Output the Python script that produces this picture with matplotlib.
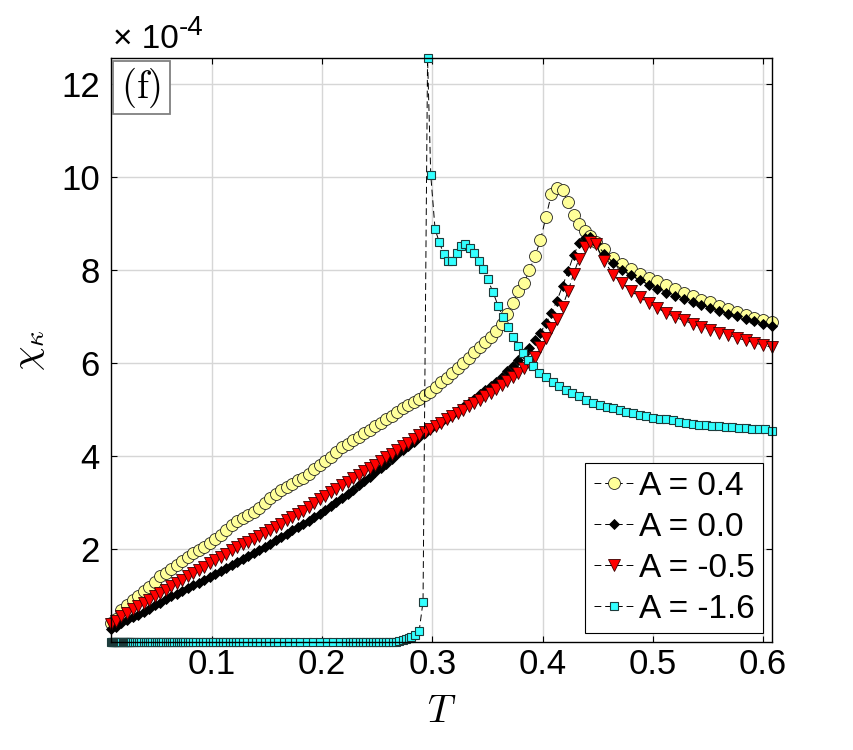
import matplotlib.pyplot as plt
from matplotlib.patches import Rectangle

plt.rcParams['font.family'] = ['Liberation Sans', 'DejaVu Sans']
plt.rcParams['mathtext.fontset'] = 'cm'

# --- DATA (chi_kappa in units of 1e-4) ---
T_main = [0.0085, 0.013, 0.018, 0.023, 0.028, 0.033, 0.038, 0.043, 0.048, 0.053,
          0.058, 0.063, 0.068, 0.073, 0.078, 0.083, 0.088, 0.093, 0.098, 0.103,
          0.108, 0.113, 0.118, 0.123, 0.128, 0.133, 0.138, 0.143, 0.148, 0.153,
          0.158, 0.163, 0.168, 0.173, 0.178, 0.183, 0.188, 0.193, 0.198, 0.203,
          0.208, 0.213, 0.218, 0.223, 0.228, 0.233, 0.238, 0.243, 0.248, 0.253,
          0.258, 0.263, 0.268, 0.273, 0.278, 0.283, 0.288, 0.293, 0.298, 0.303,
          0.308, 0.313, 0.318, 0.323, 0.328, 0.333, 0.338, 0.343, 0.348, 0.353,
          0.358, 0.363, 0.368, 0.373, 0.378, 0.383, 0.388, 0.393, 0.398, 0.403,
          0.408, 0.413, 0.418, 0.423, 0.428, 0.433, 0.438, 0.443, 0.448, 0.456,
          0.464, 0.472, 0.480, 0.488, 0.496, 0.504, 0.512, 0.520, 0.528, 0.536,
          0.544, 0.552, 0.560, 0.568, 0.576, 0.584, 0.592, 0.600, 0.608]

chi_a04 = [0.40, 0.50, 0.68, 0.80, 0.90, 1.00, 1.10, 1.19, 1.30, 1.41,
           1.49, 1.57, 1.65, 1.74, 1.82, 1.91, 1.98, 2.05, 2.13, 2.21,
           2.31, 2.42, 2.52, 2.61, 2.67, 2.74, 2.80, 2.89, 3.00, 3.10,
           3.19, 3.27, 3.34, 3.41, 3.48, 3.54, 3.62, 3.72, 3.82, 3.90,
           3.98, 4.08, 4.19, 4.27, 4.34, 4.42, 4.50, 4.57, 4.65, 4.72,
           4.80, 4.87, 4.95, 5.03, 5.10, 5.17, 5.24, 5.31, 5.38, 5.49,
           5.59, 5.68, 5.78, 5.89, 6.00, 6.12, 6.24, 6.35, 6.46, 6.57,
           6.69, 6.84, 7.07, 7.30, 7.55, 7.72, 8.00, 8.30, 8.65, 9.15,
           9.65, 9.77, 9.72, 9.48, 9.20, 8.99, 8.84, 8.74, 8.62, 8.45,
           8.26, 8.13, 8.03, 7.93, 7.84, 7.76, 7.68, 7.60, 7.52, 7.45,
           7.37, 7.31, 7.24, 7.17, 7.11, 7.04, 6.98, 6.93, 6.88]

chi_a00 = [0.28, 0.33, 0.40, 0.47, 0.53, 0.58, 0.65, 0.72, 0.79, 0.85,
           0.92, 0.98, 1.04, 1.10, 1.16, 1.22, 1.28, 1.33, 1.40, 1.46,
           1.53, 1.59, 1.65, 1.72, 1.78, 1.85, 1.91, 1.98, 2.05, 2.12,
           2.19, 2.26, 2.33, 2.40, 2.47, 2.54, 2.61, 2.68, 2.76, 2.85,
           2.93, 3.01, 3.10, 3.19, 3.28, 3.37, 3.46, 3.56, 3.65, 3.74,
           3.84, 3.94, 4.04, 4.13, 4.22, 4.31, 4.41, 4.50, 4.58, 4.66,
           4.74, 4.82, 4.89, 4.97, 5.05, 5.14, 5.23, 5.33, 5.42, 5.51,
           5.60, 5.71, 5.83, 5.95, 6.07, 6.19, 6.33, 6.49, 6.66, 6.86,
           7.08, 7.35, 7.66, 7.98, 8.32, 8.58, 8.69, 8.71, 8.58, 8.36,
           8.16, 8.01, 7.90, 7.79, 7.69, 7.60, 7.52, 7.45, 7.38, 7.31,
           7.25, 7.19, 7.13, 7.07, 7.02, 6.96, 6.91, 6.85, 6.80]

chi_am05 = [0.38, 0.45, 0.55, 0.63, 0.70, 0.77, 0.84, 0.91, 0.98, 1.05,
            1.13, 1.20, 1.27, 1.34, 1.41, 1.48, 1.55, 1.62, 1.69, 1.76,
            1.83, 1.90, 1.97, 2.04, 2.10, 2.16, 2.22, 2.28, 2.34, 2.41,
            2.48, 2.55, 2.62, 2.69, 2.76, 2.83, 2.90, 2.99, 3.08, 3.15,
            3.23, 3.30, 3.38, 3.45, 3.52, 3.59, 3.67, 3.74, 3.82, 3.90,
            3.98, 4.05, 4.13, 4.21, 4.29, 4.37, 4.45, 4.52, 4.59, 4.65,
            4.72, 4.79, 4.86, 4.93, 5.00, 5.07, 5.14, 5.21, 5.29, 5.37,
            5.45, 5.53, 5.62, 5.71, 5.80, 5.90, 6.00, 6.14, 6.34, 6.55,
            6.75, 6.95, 7.22, 7.55, 7.92, 8.25, 8.50, 8.62, 8.56, 8.20,
            7.90, 7.72, 7.56, 7.42, 7.30, 7.19, 7.08, 6.99, 6.92, 6.85,
            6.78, 6.72, 6.66, 6.60, 6.55, 6.49, 6.44, 6.39, 6.34]

T_cyan = [0.0085, 0.009, 0.0095, 0.010, 0.011, 0.012, 0.013, 0.014, 0.015, 0.016,
          0.017, 0.018, 0.019, 0.020, 0.021, 0.022, 0.023, 0.024, 0.025, 0.026,
          0.027, 0.028, 0.030, 0.032, 0.034, 0.036, 0.038, 0.040, 0.042, 0.044,
          0.046, 0.048, 0.050, 0.052, 0.054, 0.056, 0.058, 0.060, 0.062, 0.064,
          0.066, 0.068, 0.070, 0.072, 0.074, 0.076, 0.078, 0.080, 0.083, 0.086,
          0.089, 0.092, 0.095, 0.098, 0.101, 0.104, 0.107, 0.110, 0.113, 0.116,
          0.119, 0.122, 0.125, 0.128, 0.132, 0.136, 0.140, 0.144, 0.148, 0.152,
          0.156, 0.160, 0.165, 0.170, 0.175, 0.180, 0.186, 0.192, 0.198, 0.204,
          0.210, 0.216, 0.222, 0.225, 0.228, 0.231, 0.234, 0.237, 0.240, 0.243,
          0.246, 0.249, 0.252, 0.255, 0.258, 0.261, 0.264, 0.267, 0.270, 0.2735,
          0.2765, 0.279, 0.281, 0.284, 0.288, 0.2915, 0.2956, 0.2985, 0.3024, 0.306,
          0.3103, 0.3143, 0.318, 0.322, 0.326, 0.330, 0.334, 0.338, 0.342, 0.346,
          0.350, 0.355, 0.3595, 0.364, 0.369, 0.373, 0.378, 0.382, 0.387, 0.391,
          0.397, 0.403, 0.409, 0.415, 0.421, 0.427, 0.433, 0.4397, 0.446, 0.452,
          0.458, 0.464, 0.470, 0.476, 0.482, 0.488, 0.494, 0.500, 0.506, 0.512,
          0.518, 0.524, 0.530, 0.536, 0.542, 0.548, 0.554, 0.560, 0.566, 0.572,
          0.578, 0.584, 0.590, 0.596, 0.602, 0.608]

chi_am16 = [0.00] * 98 + [
            0.02, 0.04,
            0.06, 0.09, 0.11, 0.16, 0.24, 0.87, 12.57, 10.05, 8.89, 8.62,
            8.35, 8.19, 8.20, 8.37, 8.52, 8.56, 8.47, 8.38, 8.21, 8.02,
            7.81, 7.53, 7.24, 6.99, 6.77, 6.57, 6.37, 6.21, 6.07, 5.93,
            5.80, 5.71, 5.60, 5.52, 5.43, 5.36, 5.30, 5.21, 5.15, 5.10,
            5.06, 5.03, 4.99, 4.96, 4.92, 4.89, 4.86, 4.83, 4.81, 4.79,
            4.77, 4.74, 4.71, 4.70, 4.68, 4.66, 4.65, 4.64, 4.63, 4.62,
            4.61, 4.60, 4.59, 4.58, 4.58, 4.54]

labels = ['A = 0.4', 'A = 0.0', 'A = -0.5', 'A = -1.6']
x_ticks = [0.1, 0.2, 0.3, 0.4, 0.5, 0.6]
y_ticks = [2, 4, 6, 8, 10, 12]

# --- FIGURE ---
fig = plt.figure(figsize=(8.54, 7.5), dpi=100)
ax = fig.add_axes([111 / 854, 1 - 642 / 750, 661 / 854, 584 / 750])

line_kw = dict(linestyle='--', dashes=(7, 4), color='k', linewidth=0.7, clip_on=False)
ax.plot(T_main, chi_a04, marker='o', markersize=8.6, markerfacecolor='#ffff99',
        markeredgecolor='#222222', markeredgewidth=0.6, label=labels[0], **line_kw)
ax.plot(T_main, chi_a00, marker='D', markersize=5.0, markerfacecolor='k',
        markeredgecolor='k', markeredgewidth=0.6, label=labels[1], **line_kw)
ax.plot(T_main, chi_am05, marker='v', markersize=9.0, markerfacecolor='#ff0000',
        markeredgecolor='#3a0000', markeredgewidth=0.6, label=labels[2], **line_kw)
ax.plot(T_cyan, chi_am16, marker='s', markersize=6.4, markerfacecolor='#33ffff',
        markeredgecolor='#1d3c3c', markeredgewidth=0.8, label=labels[3], **line_kw)

ax.set_xlim(0.0085, 0.608)
ax.set_ylim(0, 12.57)
ax.set_xticks(x_ticks)
ax.set_xticklabels([f'{t:.1f}' for t in x_ticks])
ax.set_yticks(y_ticks)
ax.set_yticklabels([str(t) for t in y_ticks])
ax.tick_params(direction='in', top=True, right=True, length=4.5, width=0.8,
               labelsize=25)
ax.tick_params(axis='x', pad=4)
ax.tick_params(axis='y', pad=8)
ax.grid(True, color='#d6d6d6', linewidth=1)
ax.set_axisbelow(True)
for sp in ax.spines.values():
    sp.set_linewidth(1.0)

ax.set_xlabel(r'$T$', fontsize=28, labelpad=10)
ax.set_ylabel(r'$\chi_\kappa$', fontsize=28, labelpad=10)

# exponent label
base = fig.text(113 / 854, 1 - 48 / 750, '\u00d7 10', fontsize=24,
                ha='left', va='baseline')
ax.annotate('-4', xy=(1.0, 0.45), xycoords=base, fontsize=20,
            ha='left', va='bottom', annotation_clip=False)

# panel tag
ax.add_patch(Rectangle((0.003, 0.904), 0.0862, 0.0908, transform=ax.transAxes,
                       facecolor='white', edgecolor='#808080', linewidth=1.3, zorder=5))
ax.text(0.046, 0.949, r'$\mathrm{(f)}$', transform=ax.transAxes, fontsize=28,
        ha='center', va='center', zorder=6)

leg = ax.legend(loc='lower right', bbox_to_anchor=(0.986, 0.015), borderaxespad=0,
                fontsize=24, frameon=True, fancybox=False, framealpha=1,
                edgecolor='k', handlelength=1.2, handletextpad=0.15,
                borderpad=0.25, labelspacing=0.3)
leg.get_frame().set_linewidth(0.8)

fig.savefig('out.png', dpi=100)
